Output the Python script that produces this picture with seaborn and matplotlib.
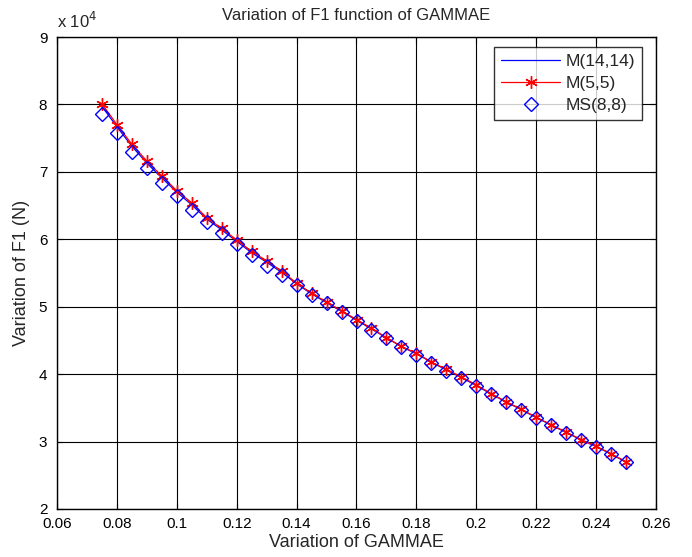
import matplotlib
matplotlib.use("Agg")
import matplotlib.pyplot as plt
import seaborn as sns
import pandas as pd
import numpy as np
from matplotlib.ticker import FuncFormatter, MultipleLocator

sns.set_style("white")
plt.rcParams['font.family'] = ['Liberation Sans', 'DejaVu Sans']

gammae = [0.075, 0.080, 0.085, 0.090, 0.095, 0.100, 0.105, 0.110, 0.115, 0.120,
          0.125, 0.130, 0.135, 0.140, 0.145, 0.150, 0.155, 0.160, 0.165, 0.170,
          0.175, 0.180, 0.185, 0.190, 0.195, 0.200, 0.205, 0.210, 0.215, 0.220,
          0.225, 0.230, 0.235, 0.240, 0.245, 0.250]

f1_m55 = [80100, 77000, 74100, 71600, 69400, 67200, 65400, 63200, 61600, 59900,
          58200, 56800, 55300, 53500, 52000, 50700, 49400, 48100, 46800, 45400,
          44100, 43100, 41800, 40700, 39600, 38400, 37100, 35900, 34800, 33600,
          32500, 31400, 30300, 29300, 28200, 27000]

f1_ms88 = [78600, 75700, 73000, 70600, 68300, 66400, 64400, 62600, 60900, 59300,
           57600, 56100, 54700, 53200, 51800, 50500, 49200, 47900, 46600, 45300,
           44000, 42900, 41700, 40500, 39400, 38200, 37000, 35800, 34700, 33500,
           32400, 31300, 30200, 29200, 28100, 26900]

f1_m1414 = [79700, 76700, 73800, 71300, 69100, 67000, 65100, 63000, 61400, 59700,
            58000, 56600, 55100, 53400, 51900, 50600, 49300, 48000, 46700, 45400,
            44100, 43000, 41800, 40600, 39500, 38300, 37050, 35850, 34750, 33550,
            32450, 31350, 30250, 29250, 28150, 26950]

df = pd.DataFrame({"g": gammae, "m55": f1_m55, "ms88": f1_ms88, "m1414": f1_m1414})

fig = plt.figure(figsize=(6.92, 5.57), dpi=100)
ax = fig.add_axes([57 / 692, 48 / 557, 599 / 692, 472 / 557])

sns.lineplot(data=df, x="g", y="m1414", ax=ax, color="blue", linewidth=0.9,
             label="M(14,14)")
sns.lineplot(data=df, x="g", y="m55", ax=ax, color="red", linewidth=0.9,
             marker=(6, 2, 0), markersize=9, markeredgecolor="red",
             markeredgewidth=1.0, label="M(5,5)")
sns.lineplot(data=df, x="g", y="ms88", ax=ax, linestyle="none", marker="D",
             markersize=7, markerfacecolor="none", markeredgecolor="blue",
             markeredgewidth=1.0, color="blue", label="MS(8,8)")

ax.set_xlim(0.06, 0.26)
ax.set_ylim(20000, 90000)
ax.xaxis.set_major_locator(MultipleLocator(0.02))
ax.yaxis.set_major_locator(MultipleLocator(10000))
ax.xaxis.set_major_formatter(FuncFormatter(lambda v, p: "%g" % round(v, 2)))
ax.yaxis.set_major_formatter(FuncFormatter(lambda v, p: "%g" % round(v / 1e4, 2)))

ax.grid(True, color="black", linewidth=0.8, linestyle="-")
ax.set_axisbelow(True)
for s in ax.spines.values():
    s.set_color("black")
    s.set_linewidth(1.0)
ax.tick_params(direction="in", length=4, labelsize=11, colors="black",
               top=True, right=True, bottom=True, left=True)
ax.tick_params(axis="x", pad=6)
ax.tick_params(axis="y", pad=7)

ax.set_title("Variation of F1 function of GAMMAE", fontsize=12, pad=12)
ax.set_xlabel("Variation of GAMMAE", fontsize=13, labelpad=2)
ax.set_ylabel("Variation of F1 (N)", fontsize=13, labelpad=6)
ax.text(0.0, 1.012, r"x 10$^4$", transform=ax.transAxes, fontsize=12,
        ha="left", va="bottom")

leg = ax.legend(loc="upper right", bbox_to_anchor=(1 - 14 / 599, 1 - 10 / 472),
                borderaxespad=0, fontsize=12.5, frameon=True, fancybox=False,
                edgecolor="black", handlelength=3.4, handletextpad=0.3,
                labelspacing=0.4, borderpad=0.4)
leg.get_frame().set_linewidth(1.0)

fig.savefig("out.png", dpi=100)
